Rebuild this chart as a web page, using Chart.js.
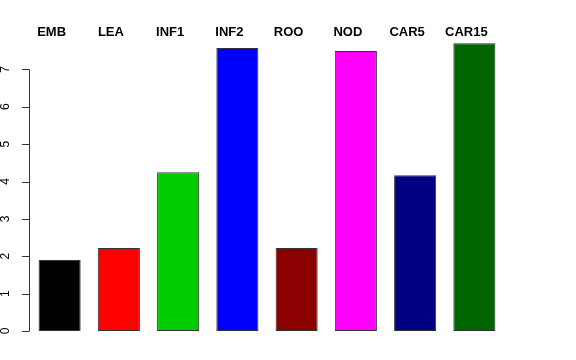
<!DOCTYPE html>
<html>
<head>
<meta charset="utf-8">
<script src="https://cdn.jsdelivr.net/npm/chart.js@4"></script>
<style>
  html, body { margin: 0; padding: 0; background: #fff; }
  #wrap { width: 576px; height: 360px; }
</style>
</head>
<body>
<div id="wrap"><canvas id="myChart" width="576" height="360"></canvas></div>
<script>
const categories = ["EMB", "LEA", "INF1", "INF2", "ROO", "NOD", "CAR5", "CAR15"];
const values = [1.90, 2.22, 4.25, 7.57, 2.22, 7.49, 4.17, 7.70];
const barColors = ["#000000", "#FF0000", "#00CD00", "#0000FF", "#8B0000", "#FF00FF", "#000080", "#006400"];
const yTicks = [0, 1, 2, 3, 4, 5, 6, 7];

// R style axis: line, outward ticks, rotated labels; labels above bars
const rAxis = {
  id: "rAxis",
  afterDraw(chart) {
    const c = chart.ctx;
    const y = chart.scales.y;
    const x = chart.scales.x;
    const left = chart.chartArea.left - 1;
    c.save();
    c.strokeStyle = "#333";
    c.lineWidth = 1;
    c.beginPath();
    c.moveTo(left + 0.5, y.getPixelForValue(yTicks[0]));
    c.lineTo(left + 0.5, y.getPixelForValue(yTicks[yTicks.length - 1]));
    yTicks.forEach(t => {
      const py = Math.round(y.getPixelForValue(t)) + 0.5;
      c.moveTo(left + 0.5, py);
      c.lineTo(left - 7, py);
    });
    c.stroke();

    c.fillStyle = "#000";
    c.font = "12px 'Liberation Sans', Arial, sans-serif";
    c.textAlign = "center";
    c.textBaseline = "middle";
    yTicks.forEach(t => {
      const py = y.getPixelForValue(t);
      c.save();
      c.translate(6, py);
      c.rotate(-Math.PI / 2);
      c.fillText(String(t), 0, 0);
      c.restore();
    });

    c.font = "bold 13px 'Liberation Sans', Arial, sans-serif";
    c.textBaseline = "alphabetic";
    categories.forEach((name, i) => {
      c.fillText(name, x.getPixelForValue(i) - 8, 36);
    });
    c.restore();
  }
};

const ctx = document.getElementById("myChart").getContext("2d");
const chart = new Chart(ctx, {
  type: "bar",
  data: {
    labels: categories,
    datasets: [{
      data: values,
      backgroundColor: barColors,
      borderColor: "#333",
      borderWidth: 1,
      borderSkipped: false,
      barPercentage: 0.71,
      categoryPercentage: 1.0
    }]
  },
  options: {
    responsive: false,
    animation: false,
    layout: { padding: { left: 30, right: 72, top: 32, bottom: 29 } },
    plugins: { legend: { display: false }, tooltip: { enabled: false } },
    scales: {
      x: { display: false },
      y: { display: false, min: 0, max: 8 }
    }
  },
  plugins: [rAxis]
});
</script>
</body>
</html>
